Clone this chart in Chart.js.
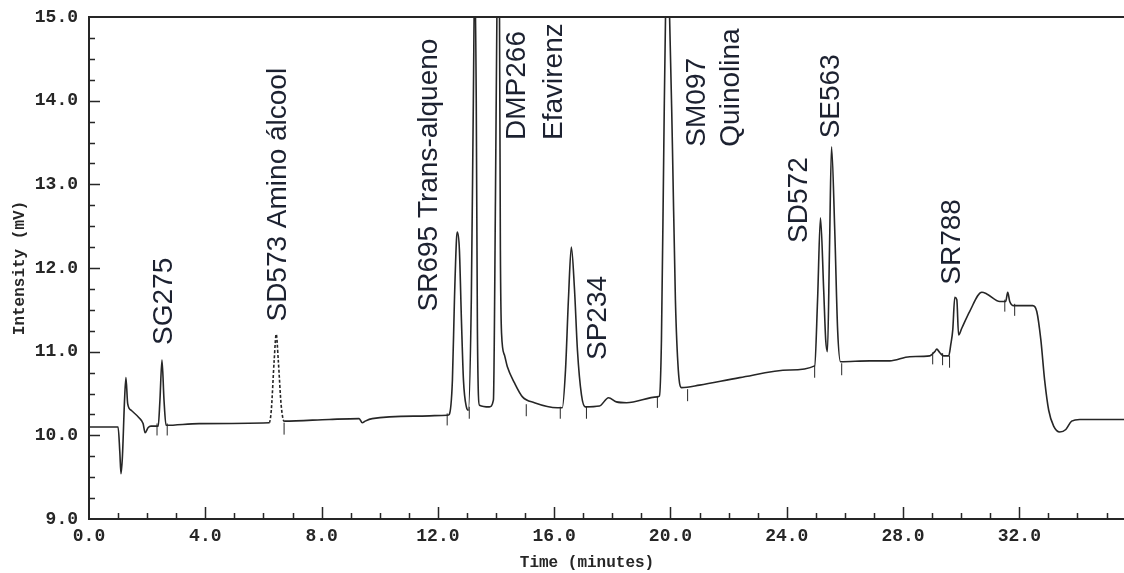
<!DOCTYPE html>
<html>
<head>
<meta charset="utf-8">
<script src="https://cdn.jsdelivr.net/npm/chart.js@4.4.1/dist/chart.umd.min.js"></script>
<style>
  html, body { margin: 0; padding: 0; background: #fff; }
</style>
</head>
<body>
<canvas id="chart" width="1124" height="573"></canvas>
<script>
// Cromatograma - valores (tempo em minutos, intensidade em mV)
const times = [
  // frente do solvente + SG275
  0.0, 1.0, 1.06, 1.1, 1.15, 1.22, 1.27, 1.33, 1.45, 1.72, 1.86, 1.93, 2.03, 2.13, 2.38, 2.44, 2.51, 2.58, 2.65, 3.79,
  // SD573 (tracejado) + linha de base
  6.2, 6.27, 6.37, 6.44, 6.51, 6.61, 6.71, 8.26, 9.29, 9.4, 9.5, 9.74, 11.36, 12.32,
  // SR695, pico 13.3, DMP266 e cauda
  12.39, 12.5, 12.57, 12.64, 12.67, 12.74, 12.81, 12.88, 12.98, 13.05, 13.15, 13.22, 13.27, 13.32, 13.36, 13.43,
  13.77, 13.91, 13.98, 14.03, 14.07, 14.12, 14.15, 14.19, 14.29, 14.39, 14.63, 14.91, 15.32, 16.11,
  // SP234 + SM097
  16.28, 16.39, 16.49, 16.59, 16.7, 16.8, 16.94, 17.07, 17.56, 17.87, 18.14, 18.49, 19.55,
  19.62, 19.69, 19.77, 19.83, 19.9, 19.97, 20.07, 20.17, 20.27, 20.38,
  // SD572 + SE563
  21.0, 22.38, 24.1, 24.96, 25.06, 25.16, 25.27, 25.34, 25.4, 25.47, 25.54, 25.65, 25.75, 25.85,
  // SR788, elevação e queda final
  26.85, 27.54, 28.23, 28.92, 29.09, 29.16, 29.26, 29.4, 29.57, 29.64, 29.71, 29.78, 29.85, 29.91, 30.02, 30.29,
  30.71, 30.88, 31.33, 31.53, 31.6, 31.67, 31.81, 32.46, 32.6, 32.74, 32.87, 33.01, 33.18, 33.39, 33.6, 33.8, 34.08, 35.6
];

const intensities = [
  10.1, 10.1, 9.8, 9.54, 9.75, 10.4, 10.69, 10.38, 10.3, 10.21, 10.14, 10.03, 10.09, 10.11, 10.11, 10.42, 10.9, 10.42, 10.12, 10.14,
  10.15, 10.3, 10.9, 11.21, 10.9, 10.36, 10.17, 10.19, 10.2, 10.15, 10.17, 10.2, 10.23, 10.24,
  10.25, 10.66, 11.62, 12.34, 12.43, 12.22, 11.38, 10.66, 10.34, 10.30, 11.62, 14.0, 15.6, 14.0, 11.26, 10.36,
  10.34, 10.42, 12.81, 15.0, 15.8, 15.0, 12.22, 11.22, 10.96, 10.82, 10.63, 10.46, 10.39, 10.33,
  10.33, 10.78, 11.62, 12.25, 11.74, 11.02, 10.48, 10.34, 10.35, 10.45, 10.40, 10.39, 10.46,
  10.47, 11.14, 13.41, 15.0, 15.3, 15.0, 13.41, 11.62, 10.78, 10.57,
  10.6, 10.69, 10.78, 10.83, 11.62, 12.6, 11.74, 11.14, 11.0, 12.22, 13.45, 12.46, 11.26, 10.88,
  10.89, 10.89, 10.94, 10.95, 11.0, 11.03, 10.99, 10.95, 10.95, 11.08, 11.26, 11.65, 11.62, 11.2, 11.28, 11.48,
  11.71, 11.69, 11.6, 11.6, 11.71, 11.6, 11.55, 11.55, 11.48, 11.14, 10.66, 10.30, 10.11, 10.04, 10.07, 10.17, 10.19, 10.19
];

// trecho desenhado tracejado (SD573)
const dashedFrom = 6.2;
const dashedTo = 6.71;

// marcas de integração (início/fim de pico)
const markerTimes = [2.34, 2.69, 6.71, 12.32, 13.08, 15.04, 16.21, 17.11, 19.55, 20.59, 24.96, 25.89, 29.02, 29.36, 29.6, 31.5, 31.84];
const markerLevels = [10.07, 10.07, 10.08, 10.19, 10.27, 10.3, 10.27, 10.27, 10.4, 10.48, 10.76, 10.79, 10.92, 10.91, 10.88, 11.55, 11.5];

// rótulos dos picos
const peakNames = ['SG275', 'SD573 Amino álcool', 'SR695 Trans-alqueno', 'DMP266', 'Efavirenz', 'SP234',
  'SM097', 'Quinolina', 'SD572', 'SE563', 'SR788'];
const peakLabelTimes = [2.51, 6.44, 11.63, 14.66, 15.94, 17.45, 20.83, 22.03, 24.34, 25.47, 29.6];
const peakLabelBase = [11.08, 11.36, 11.48, 13.53, 13.53, 10.9, 13.45, 13.45, 12.3, 13.55, 11.8];

const xTickValues = [0, 4, 8, 12, 16, 20, 24, 28, 32];
const yTickValues = [9, 10, 11, 12, 13, 14, 15];

const ink = '#262626';
const monoFont = '"Liberation Mono", "DejaVu Sans Mono", monospace';

const tracePoints = times.map((t, i) => ({ x: t, y: intensities[i] }));
const markerPoints = markerTimes.map((t, i) => ({ x: t, y: markerLevels[i] }));

const framePlugin = {
    id: 'frame',
    afterDraw(chart) {
        const { ctx, chartArea: a } = chart;
        const xs = chart.scales.x;
        const ys = chart.scales.y;
        ctx.save();
        ctx.strokeStyle = ink;

        // borda superior
        ctx.lineWidth = 2;
        ctx.beginPath();
        ctx.moveTo(a.left, a.top);
        ctx.lineTo(chart.width, a.top);
        ctx.stroke();

        // marcas internas dos eixos
        ctx.lineWidth = 1.5;
        ctx.beginPath();
        for (let v = 9.25; v < 15; v += 0.25) {
            const py = Math.round(ys.getPixelForValue(v)) + 0.5;
            const major = Math.abs(v - Math.round(v)) < 0.01;
            ctx.moveTo(a.left, py);
            ctx.lineTo(a.left + (major ? 11 : 6), py);
        }
        for (let t = 1; t <= 35; t += 1) {
            const px = Math.round(xs.getPixelForValue(t)) + 0.5;
            ctx.moveTo(px, a.bottom);
            ctx.lineTo(px, a.bottom - (t % 4 === 0 ? 12 : 6));
        }
        ctx.stroke();

        // título do eixo x
        ctx.fillStyle = ink;
        ctx.font = 'bold 16px ' + monoFont;
        ctx.textAlign = 'center';
        ctx.textBaseline = 'middle';
        ctx.fillText('Time (minutes)', 587, 563);

        // rótulos verticais dos picos
        ctx.fillStyle = '#1c2130';
        ctx.font = '28px "Liberation Sans", Arial, sans-serif';
        ctx.textAlign = 'left';
        ctx.textBaseline = 'alphabetic';
        peakNames.forEach((name, i) => {
            const px = xs.getPixelForValue(peakLabelTimes[i]);
            const py = ys.getPixelForValue(peakLabelBase[i]);
            ctx.save();
            ctx.translate(px + 10, py);
            ctx.rotate(-Math.PI / 2);
            ctx.fillText(name, 0, 0);
            ctx.restore();
        });
        ctx.restore();
    }
};

new Chart(document.getElementById('chart'), {
    type: 'line',
    data: {
        datasets: [{
            data: tracePoints,
            borderColor: ink,
            borderWidth: 1.6,
            pointRadius: 0,
            fill: false,
            cubicInterpolationMode: 'monotone',
            segment: {
                borderDash: c => (c.p0.parsed.x >= dashedFrom && c.p1.parsed.x <= dashedTo) ? [3, 2] : undefined
            }
        }, {
            type: 'scatter',
            data: markerPoints,
            pointStyle: 'line',
            rotation: 90,
            pointRadius: 6,
            borderColor: ink,
            borderWidth: 1,
            showLine: false
        }]
    },
    options: {
        responsive: false,
        animation: false,
        layout: { autoPadding: false, padding: { top: 17, right: 0, left: 0, bottom: 0 } },
        plugins: { legend: { display: false }, tooltip: { enabled: false } },
        scales: {
            x: {
                type: 'linear',
                min: 0,
                max: 35.6,
                afterBuildTicks: s => { s.ticks = xTickValues.map(v => ({ value: v })); },
                afterFit: s => { s.height = 54; s.paddingLeft = 0; s.paddingRight = 0; },
                grid: { display: false, drawTicks: false },
                border: { display: true, color: ink, width: 2 },
                ticks: {
                    padding: 7,
                    color: ink,
                    maxRotation: 0,
                    autoSkip: false,
                    font: { family: monoFont, size: 18, weight: 'bold' },
                    callback: v => v.toFixed(1)
                }
            },
            y: {
                type: 'linear',
                min: 9,
                max: 15,
                afterBuildTicks: s => { s.ticks = yTickValues.map(v => ({ value: v })); },
                afterFit: s => { s.width = 89; s.paddingTop = 0; s.paddingBottom = 0; },
                grid: { display: false, drawTicks: false },
                border: { display: true, color: ink, width: 2 },
                title: {
                    display: true,
                    text: 'Intensity (mV)',
                    color: ink,
                    font: { family: monoFont, size: 16, weight: 'bold' },
                    padding: { top: 10, bottom: 0 }
                },
                ticks: {
                    padding: 11,
                    color: ink,
                    font: { family: monoFont, size: 18, weight: 'bold' },
                    callback: v => v.toFixed(1)
                }
            }
        }
    },
    plugins: [framePlugin]
});
</script>
</body>
</html>
